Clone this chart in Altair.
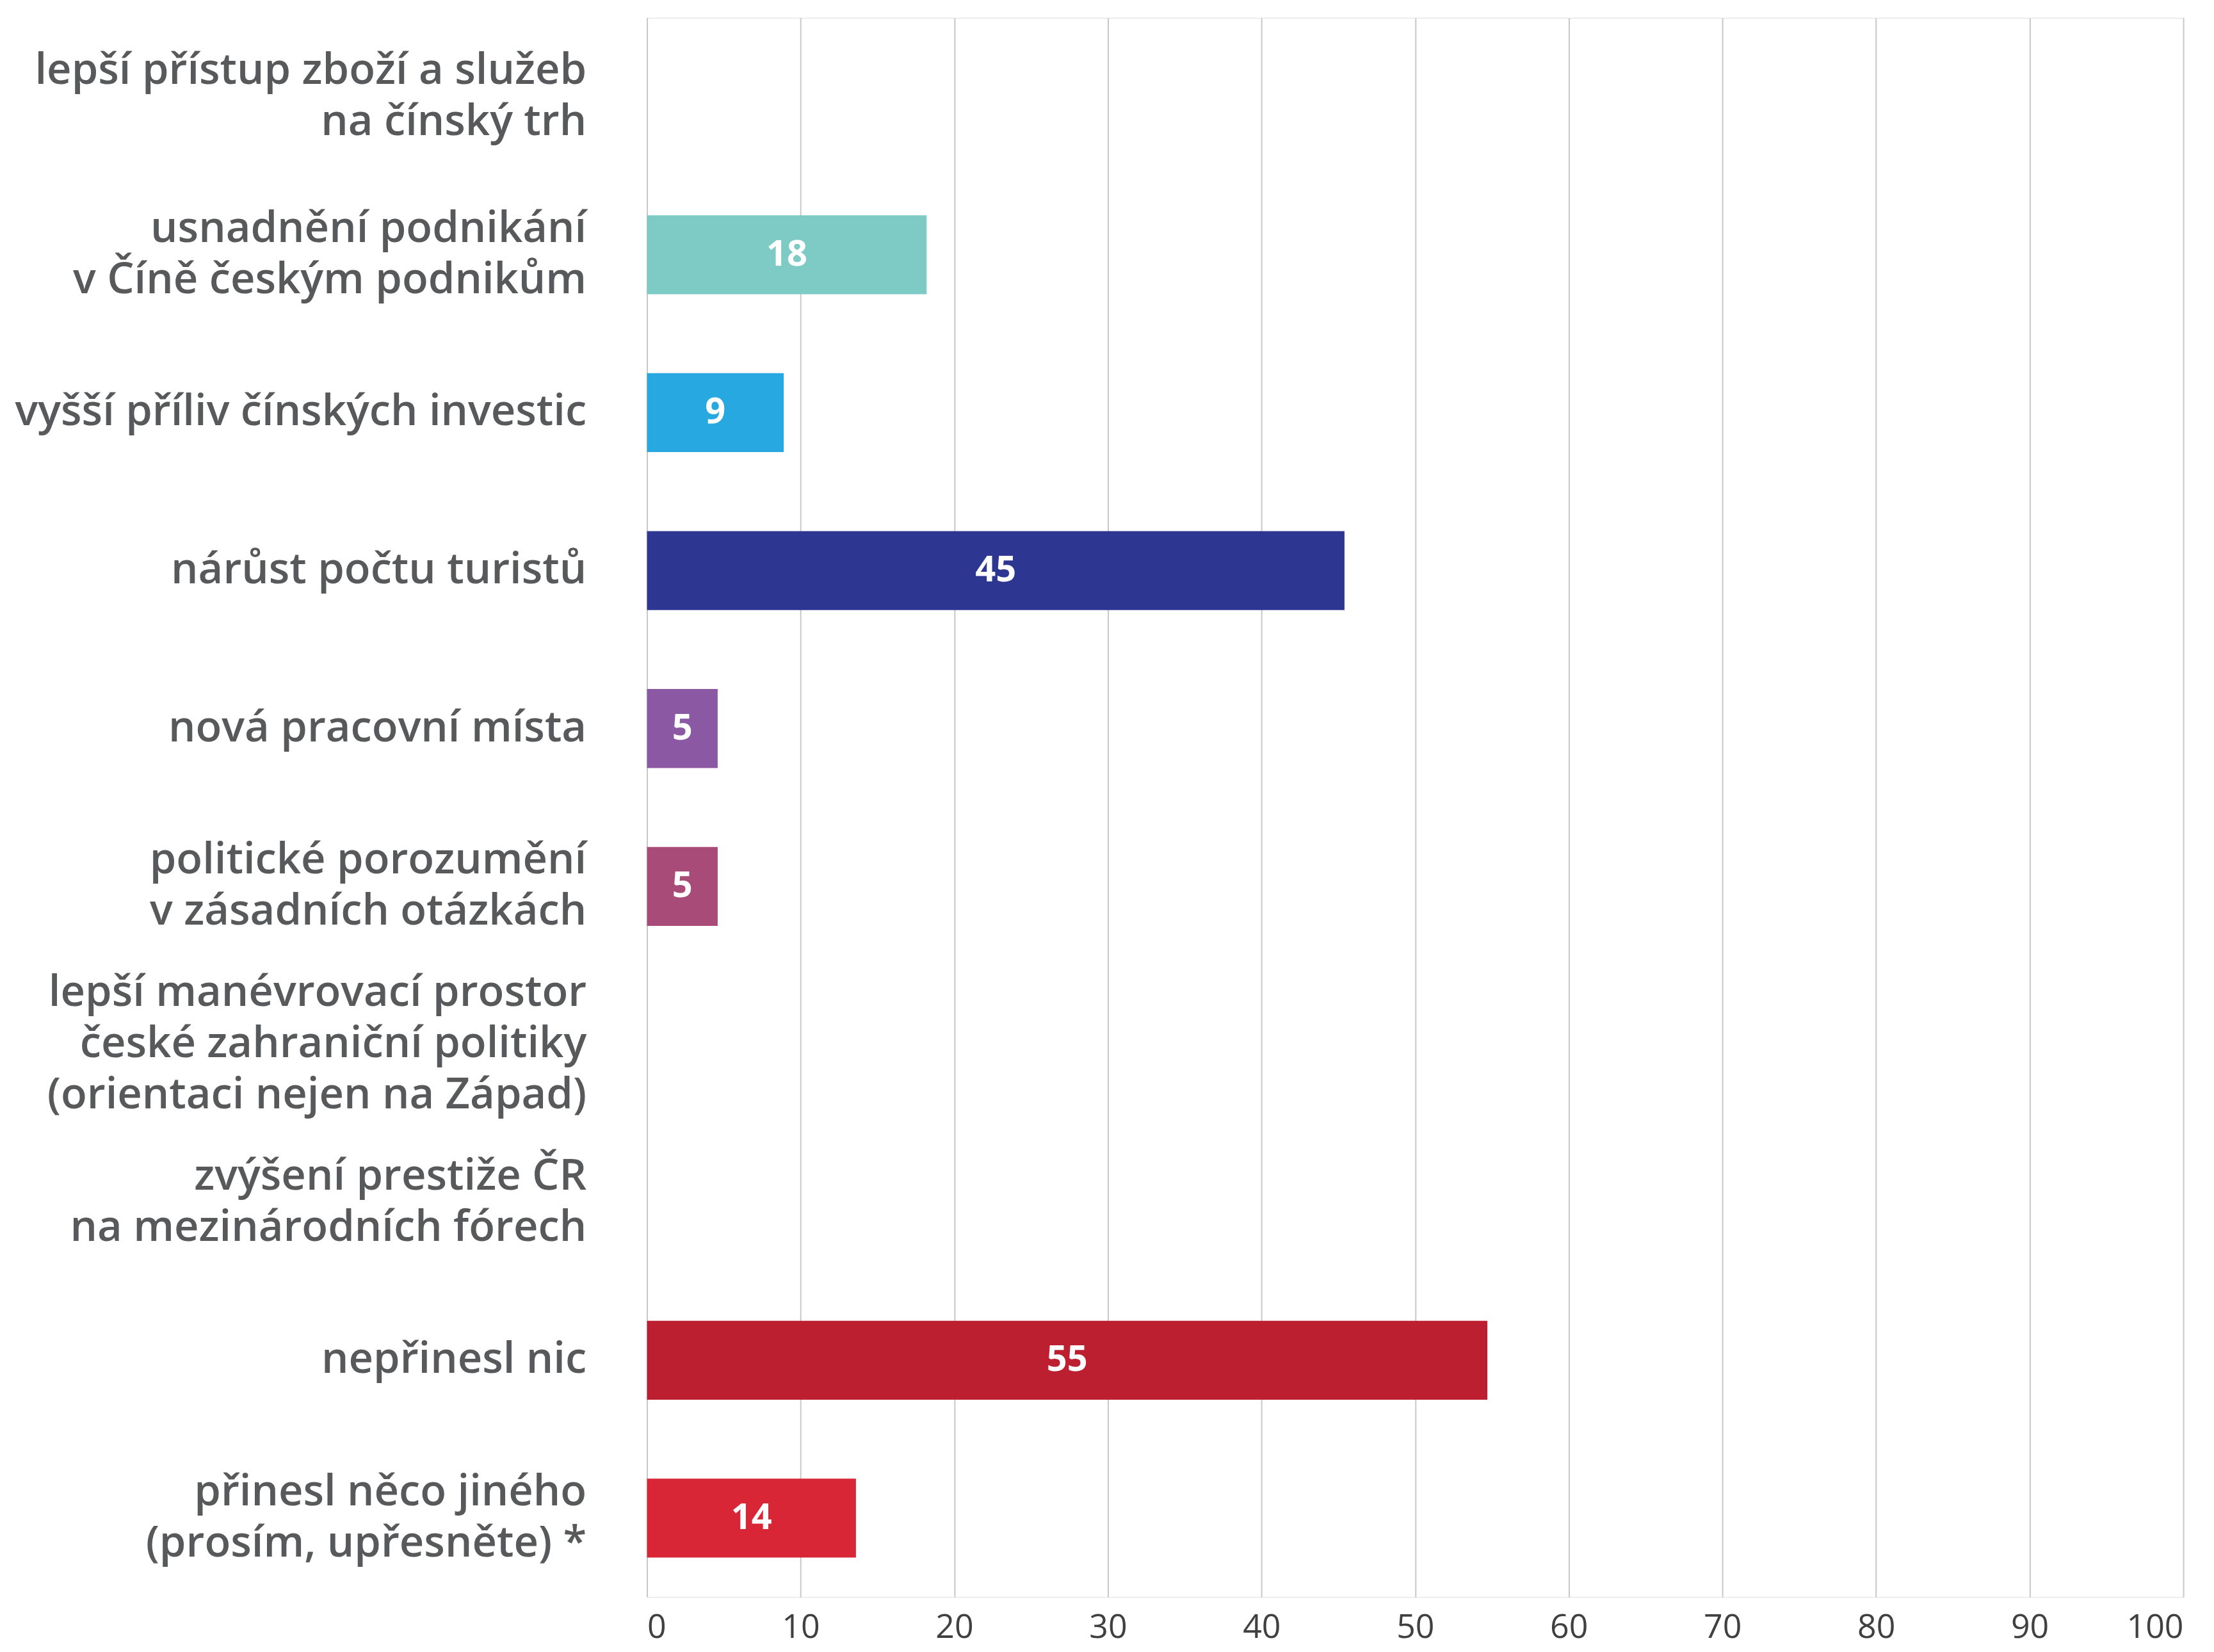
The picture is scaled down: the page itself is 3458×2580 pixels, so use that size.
import altair as alt
import pandas as pd

categories = [
    "lepší přístup zboží a služeb|na čínský trh",
    "usnadnění podnikání|v Číně českým podnikům",
    "vyšší příliv čínských investic",
    "nárůst počtu turistů",
    "nová pracovní místa",
    "politické porozumění|v zásadních otázkách",
    "lepší manévrovací prostor|české zahraniční politiky|(orientaci nejen na Západ)",
    "zvýšení prestiže ČR|na mezinárodních fórech",
    "nepřinesl nic",
    "přinesl něco jiného|(prosím, upřesněte) *",
]
values = [None, 18.2, 8.9, 45.4, 4.6, 4.6, None, None, 54.7, 13.6]
labels = ["", "18", "9", "45", "5", "5", "", "", "55", "14"]
colors = ["#ffffff", "#7ecbc5", "#27a8e0", "#2d3691", "#8b59a4", "#a84b79",
          "#ffffff", "#ffffff", "#bc1f2f", "#d92636"]
x_ticks = [0, 10, 20, 30, 40, 50, 60, 70, 80, 90, 100]

df = pd.DataFrame({"cat": categories, "value": values, "label": labels, "color": colors})

LH = 80

y_enc = alt.Y(
    "cat:N",
    sort=categories,
    title=None,
    scale=alt.Scale(paddingInner=0.5, paddingOuter=0.25),
    axis=alt.Axis(
        labelExpr="split(datum.value, '|')",
        labelFont="Open Sans",
        labelFontWeight=600,
        labelFontSize=67,
        labelColor="#58595b",
        labelLineHeight=LH,
        labelPadding=95,
        labelLimit=2000,
        labelOffset={
            "condition": [
                {"test": "length(split(datum.value, '|')) == 3", "value": -LH},
                {"test": "length(split(datum.value, '|')) == 2", "value": -LH / 2},
            ],
            "value": 0,
        },
        ticks=False,
        domain=False,
        grid=False,
    ),
)

x_scale = alt.Scale(domain=[0, 100], nice=False)

bars = alt.Chart(df).mark_bar().encode(
    y=y_enc,
    x=alt.X(
        "value:Q",
        scale=x_scale,
        title=None,
        axis=alt.Axis(
            values=x_ticks,
            grid=True,
            gridColor="#c8c8c8",
            gridWidth=2,
            domain=False,
            ticks=False,
            labelFont="Open Sans",
            labelFontSize=52,
            labelColor="#404040",
            labelPadding=22,
        ),
    ),
    color=alt.Color("color:N", scale=None),
)

text = alt.Chart(df).transform_filter("datum.value != null").transform_calculate(
    mid="datum.value / 2"
).mark_text(
    font="Open Sans", fontWeight="bold", fontSize=56, color="white",
    align="center", baseline="middle"
).encode(
    y=alt.Y("cat:N", sort=categories),
    x=alt.X("mid:Q", scale=x_scale),
    text="label:N",
)

chart = (bars + text).properties(
    width=2403, height=2470,
    padding={"left": 14, "top": 18, "right": 40, "bottom": 4},
).configure_view(stroke=None).configure(background="white")

chart.save("out.html", embed_options={"renderer": "svg", "actions": False})
